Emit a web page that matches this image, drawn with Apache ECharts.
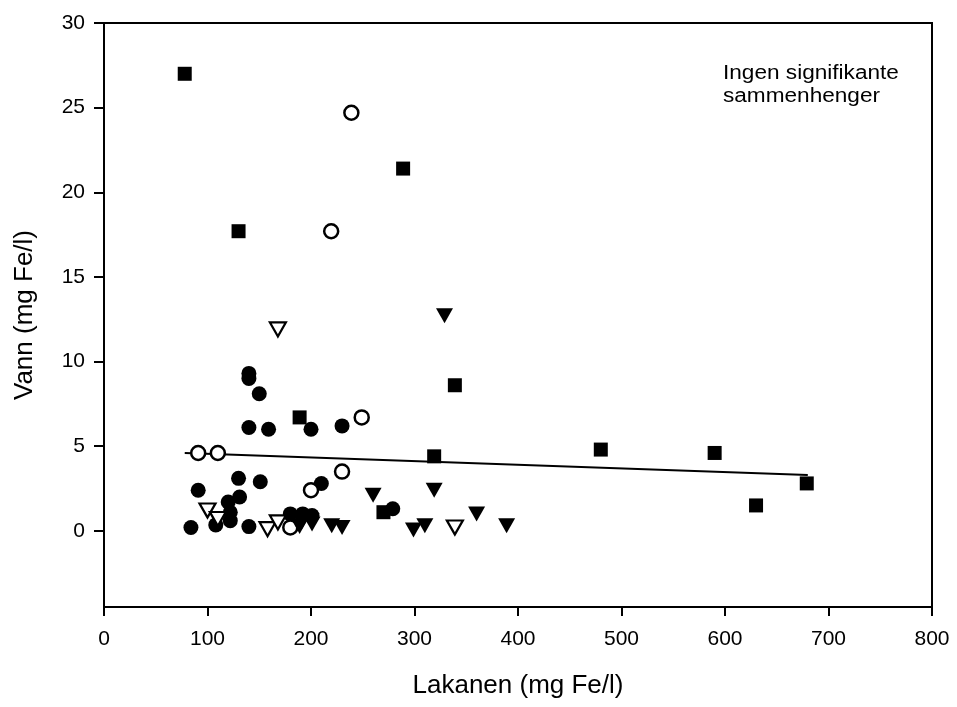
<!DOCTYPE html>
<html><head><meta charset="utf-8">
<script src="https://cdn.jsdelivr.net/npm/echarts@6/dist/echarts.min.js"></script>
<style>html,body{margin:0;padding:0;background:#fff}#c{width:957px;height:707px}</style>
</head><body><div id="c"></div>
<script>
const xTicks = [0,100,200,300,400,500,600,700,800];
const yTicks = [0,5,10,15,20,25,30];
const filledSquares = [[78,27],[130,17.7],[289,21.4],[339,8.6],[189,6.7],[319,4.4],[480,4.8],[590,4.6],[630,1.5],[679,2.8],[270,1.1]];
const openCircles = [[239,24.7],[219.5,17.7],[249,6.7],[91,4.6],[110,4.6],[230,3.5],[200,2.4],[180,0.2]];
const filledCircles = [[140,9.3],[140,9.0],[150,8.1],[140,6.1],[159,6.0],[200,6.0],[230,6.2],[130,3.1],[151,2.9],[91,2.4],[210,2.8],[131,2.0],[120,1.7],[122,1.1],[122,0.6],[84,0.2],[108,0.35],[140,0.25],[279,1.3],[180,1.0],[192,1.0],[201,0.9]];
const openTriangles = [[168,11.9],[100,1.2],[110,0.7],[158,0.1],[168,0.5],[339,0.2]];
const filledTriangles = [[329,12.7],[260,2.1],[319,2.4],[360,1.0],[389,0.3],[299,0.05],[310,0.3],[220,0.3],[230,0.2],[189,0.25],[200,0.6],[191,0.5],[201,0.4]];
const regression = [[78,4.6],[680,3.3]];
const noteLines = ['Ingen signifikante','sammenhenger'];

const font = 'Liberation Sans, Arial, sans-serif';
const chart = echarts.init(document.getElementById('c'));
chart.setOption({
  animation:false,
  backgroundColor:'#fff',
  grid:{left:104,right:25,top:23,bottom:100,show:true,borderColor:'#000',borderWidth:2,backgroundColor:'transparent'},
  xAxis:{type:'value',min:0,max:800,interval:100,
    name:'Lakanen (mg Fe/l)',nameLocation:'middle',nameGap:66,
    nameTextStyle:{fontFamily:font,fontSize:26,color:'#000'},
    axisLine:{show:true,onZero:false,lineStyle:{color:'#000',width:2}},
    axisTick:{show:true,length:9,lineStyle:{color:'#000',width:2}},
    axisLabel:{fontFamily:font,fontSize:21,color:'#000',margin:22,customValues:xTicks},
    splitLine:{show:false}},
  yAxis:{type:'value',min:-4.5,max:30,
    name:'Vann (mg Fe/l)',nameLocation:'middle',nameGap:66,
    nameTextStyle:{fontFamily:font,fontSize:26,color:'#000'},
    axisLine:{show:true,onZero:false,lineStyle:{color:'#000',width:2}},
    axisTick:{show:true,length:10,lineStyle:{color:'#000',width:2},customValues:yTicks},
    axisLabel:{fontFamily:font,fontSize:21,color:'#000',margin:19,customValues:yTicks},
    splitLine:{show:false}},
  graphic:[{type:'text',x:723,y:62,scaleX:1.13,style:{text:noteLines.join('\n'),fontFamily:font,fontSize:20,lineHeight:23,fill:'#000'}}],
  series:[
    {type:'line',data:regression,symbol:'none',lineStyle:{color:'#000',width:2},z:1},
    {type:'scatter',data:filledSquares,symbol:'rect',symbolSize:14,itemStyle:{color:'#000',opacity:1}},
    {type:'scatter',data:filledCircles,symbol:'circle',symbolSize:15,itemStyle:{color:'#000',opacity:1}},
    {type:'scatter',data:openCircles,symbol:'circle',symbolSize:14,itemStyle:{color:'#fff',borderColor:'#000',borderWidth:2.5,opacity:1}},
    {type:'scatter',data:filledTriangles,symbol:'triangle',symbolRotate:180,symbolSize:[17,15],itemStyle:{color:'#000',opacity:1}},
    {type:'scatter',data:openTriangles,symbol:'triangle',symbolRotate:180,symbolSize:[16,14],itemStyle:{color:'#fff',borderColor:'#000',borderWidth:2.2,opacity:1}}
  ]
});
</script></body></html>
